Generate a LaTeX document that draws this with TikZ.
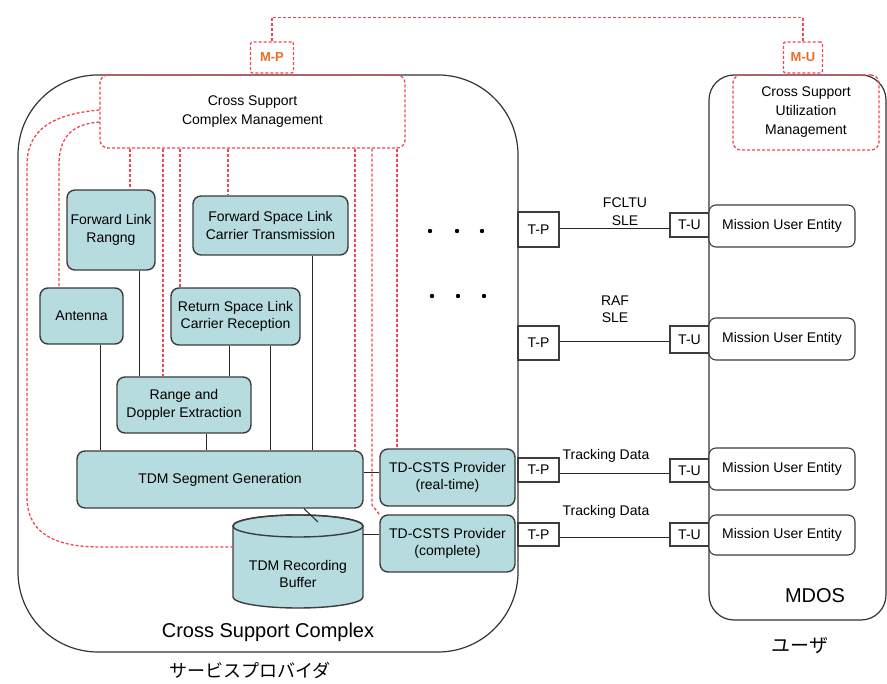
\documentclass[tikz,border=0pt]{standalone}
\usepackage{fontspec}
\setmainfont{Liberation Sans}
\newfontfamily\jpfont{Noto Sans CJK JP}
\definecolor{tealfill}{RGB}{182,220,223}
\definecolor{dred}{RGB}{238,70,85}
\definecolor{borange}{RGB}{232,110,40}
\definecolor{bord}{RGB}{60,60,60}
\tikzset{
  txt/.style={font=\fontsize{14}{17.5}\selectfont},
  tbox/.style={txt, draw=bord, fill=tealfill, line width=1.4pt, rounded corners=8pt, align=center, inner sep=0pt},
  wbox/.style={txt, draw=bord, fill=white, line width=1.1pt, rounded corners=7pt, align=center, inner sep=0pt},
  sq/.style={txt, draw=bord, fill=white, line width=1.1pt, inner sep=0pt},
  mgmt/.style={font=\fontsize{14}{19}\selectfont, draw=dred, dash pattern=on 3pt off 2pt, line width=1.3pt, rounded corners=8pt, align=center, inner sep=0pt},
  rdash/.style={draw=dred, dash pattern=on 3pt off 2pt, line width=1.3pt},
  conn/.style={draw=black!85, line width=1pt},
  lbl/.style={txt, align=center, inner sep=0pt},
  outer/.style={draw=black!80, line width=1.2pt, inner sep=0pt}
}
\begin{document}
\begin{tikzpicture}[x=1pt,y=-1pt]
\useasboundingbox (0,0) rectangle (887,684);
% outer containers
\node[outer, rounded corners=80pt, minimum width=500pt, minimum height=577pt] (csc) at (268,363.5) {};
\node[outer, rounded corners=25pt, minimum width=177pt, minimum height=545pt] (mdos) at (797.5,347.5) {};
\node[font=\fontsize{20}{24}\selectfont, inner sep=0pt] (csclbl) at (268,632) {Cross Support Complex};
\node[font=\fontsize{20}{24}\selectfont, inner sep=0pt] (mdoslbl) at (815,596) {MDOS};
\node[font=\jpfont\fontsize{18}{22}\selectfont, inner sep=0pt] (provider) at (250,670) {サービスプロバイダ};
\node[font=\jpfont\fontsize{19}{22}\selectfont, inner sep=0pt] (user) at (800,646) {ユーザ};

% management boxes
\node[mgmt, minimum width=305pt, minimum height=73pt] (cscm) at (252.5,111.5) {Cross Support\\Complex Management};
\node[mgmt, minimum width=146pt, minimum height=75pt] (csum) at (806,112.5) {Cross Support\\Utilization\\Management};
\node[mgmt, rounded corners=2pt, fill=white, text=borange, font=\bfseries\fontsize{13}{15}\selectfont, minimum width=43pt, minimum height=31pt] (mp) at (272,57.5) {M-P};
\node[mgmt, rounded corners=2pt, fill=white, text=borange, font=\bfseries\fontsize{13}{15}\selectfont, minimum width=39pt, minimum height=31pt] (mu) at (803,57.5) {M-U};
\draw[rdash] (mp.north) -- (mp.north |- 0,17.5) -- (mu.north |- 0,17.5) -- (mu.north);

% teal function boxes
\node[tbox, minimum width=88pt, minimum height=80pt] (flr) at (111,230) {Forward Link\\Rangng};
\node[tbox, minimum width=155pt, minimum height=59pt] (fsl) at (270.5,225.5) {Forward Space Link\\Carrier Transmission};
\node[tbox, minimum width=83pt, minimum height=56pt] (ant) at (81.5,316) {Antenna};
\node[tbox, minimum width=129pt, minimum height=57pt] (rsl) at (235.5,316.5) {Return Space Link\\Carrier Reception};
\node[tbox, minimum width=134pt, minimum height=56pt] (rde) at (184,405) {Range and\\Doppler Extraction};
\node[tbox, minimum width=286pt, minimum height=57pt] (tdm) at (220,479.5) {TDM Segment Generation};
\node[tbox, minimum width=135pt, minimum height=57pt] (tdrt) at (447.5,477.5) {TD-CSTS Provider\\(real-time)};
\node[tbox, minimum width=135pt, minimum height=57pt] (tdc) at (447.5,543.5) {TD-CSTS Provider\\(complete)};

% cylinder: TDM Recording Buffer
\filldraw[fill=tealfill, draw=bord, line width=1.4pt]
  (233,526) -- (233,597) arc[start angle=180, end angle=0, x radius=65, y radius=11]
  -- (363,526) arc[start angle=0, end angle=-180, x radius=65, y radius=11] -- cycle;
\draw[draw=bord, line width=1.4pt] (298,526) ellipse[x radius=65, y radius=11];
\node[lbl] (buf) at (298,574) {TDM Recording\\Buffer};
\coordinate (bufL) at (233,547);
\coordinate (bufR) at (363,535);
\coordinate (bufT) at (318,522);

% dashed management links
\draw[rdash] (130,0 |- cscm.south) -- (130,0 |- flr.north);
\draw[rdash] (163,0 |- cscm.south) -- (163,0 |- rde.north);
\draw[rdash] (180,0 |- cscm.south) -- (180,0 |- rsl.north);
\draw[rdash] (228,0 |- cscm.south) -- (228,0 |- fsl.north);
\draw[rdash] (355,0 |- cscm.south) -- (355,0 |- tdm.north);
\draw[rdash] (397,0 |- cscm.south) -- (397,0 |- tdrt.north);
\draw[rdash] (372,0 |- cscm.south) -- (372,505) -- (tdc.north west);
\draw[rdash] (cscm.west |- 0,110) .. controls (55,114) and (27,128) .. (27,165) -- (27,497)
  .. controls (27,530) and (50,547) .. (100,547) -- (bufL);
\draw[rdash] (cscm.west |- 0,122) .. controls (75,124) and (59,134) .. (59,165) -- (59,0 |- ant.north);

% solid connectors
\draw[conn] (100,0 |- ant.south) -- (100,0 |- tdm.north);
\draw[conn] (139,0 |- flr.south) -- (139,0 |- rde.north);
\draw[conn] (229,0 |- rsl.south) -- (229,0 |- rde.north);
\draw[conn] (270,0 |- rsl.south) -- (270,0 |- tdm.north);
\draw[conn] (312,0 |- fsl.south) -- (312,0 |- tdm.north);
\draw[conn] (206,0 |- rde.south) -- (206,0 |- tdm.north);
\draw[conn] (tdm.east |- 0,473) -- (tdrt.west |- 0,473);
\draw[conn] (304,0 |- tdm.south) -- (bufT);
\draw[conn] (bufR) -- (tdc.west |- bufR);

% ports and users
\node[sq, minimum width=41pt, minimum height=35pt] (tp1) at (538.5,229.5) {T-P};
\node[sq, minimum width=41pt, minimum height=34pt] (tp2) at (538.5,343) {T-P};
\node[sq, minimum width=41pt, minimum height=24pt] (tp3) at (538.5,470) {T-P};
\node[sq, minimum width=41pt, minimum height=23pt] (tp4) at (538.5,534.5) {T-P};
\node[sq, minimum width=39pt, minimum height=24pt] (tu1) at (689.5,225) {T-U};
\node[sq, minimum width=39pt, minimum height=27pt] (tu2) at (689.5,339.5) {T-U};
\node[sq, minimum width=39pt, minimum height=23pt] (tu3) at (689.5,470.5) {T-U};
\node[sq, minimum width=39pt, minimum height=23pt] (tu4) at (689.5,534.5) {T-U};
\node[wbox, minimum width=146pt, minimum height=42pt] (mue1) at (782,226) {Mission User Entity};
\node[wbox, minimum width=146pt, minimum height=42pt] (mue2) at (782,339) {Mission User Entity};
\node[wbox, minimum width=146pt, minimum height=42pt] (mue3) at (782,469) {Mission User Entity};
\node[wbox, minimum width=146pt, minimum height=40pt] (mue4) at (782,535) {Mission User Entity};

\draw[conn] (tp1.east |- 0,229) -- (tu1.west |- 0,229);
\draw[conn] (tp2.east |- 0,342) -- (tu2.west |- 0,342);
\draw[conn] (tp3.east |- 0,474) -- (tu3.west |- 0,474);
\draw[conn] (tp4.east |- 0,538) -- (tu4.west |- 0,538);

\node[lbl] (l1) at (625,211.5) {FCLTU\\SLE};
\node[lbl] (l2) at (615,309.5) {RAF\\SLE};
\node[lbl] (l3) at (606,456) {Tracking Data};
\node[lbl] (l4) at (606,512) {Tracking Data};

% ellipsis dots
\foreach \x in {430,457,482} \fill (\x,231) circle[radius=2.2];
\foreach \x in {432,458,484} \fill (\x,296) circle[radius=2.2];
\end{tikzpicture}
\end{document}
